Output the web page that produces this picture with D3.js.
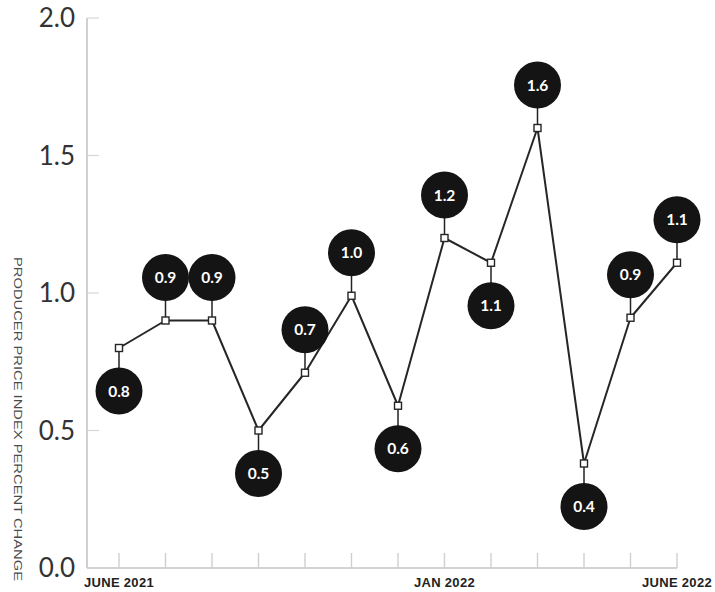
<!DOCTYPE html>
<html>
<head>
<meta charset="utf-8">
<script src="https://cdn.jsdelivr.net/npm/d3@7"></script>
<style>
  html, body { margin: 0; padding: 0; background: #fff; }
  svg { display: block; }
</style>
</head>
<body>
<svg id="chart" width="715" height="592"></svg>
<script>
// Monthly producer price index change, June 2021 to June 2022
const months = ["2021-06","2021-07","2021-08","2021-09","2021-10","2021-11","2021-12",
                "2022-01","2022-02","2022-03","2022-04","2022-05","2022-06"];
const ppiChange = [0.8, 0.9, 0.9, 0.5, 0.71, 0.99, 0.59, 1.2, 1.11, 1.6, 0.38, 0.91, 1.11];
// Which side of the point each value bubble sits on
const bubbleSide = ["below","above","above","below","above","above","below",
                    "above","below","above","below","above","above"];
const yTicks = [0, 0.5, 1, 1.5, 2];
const xLabels = { "2021-06": "JUNE 2021", "2022-01": "JAN 2022", "2022-06": "JUNE 2022" };
const yTitle = "PRODUCER PRICE INDEX PERCENT CHANGE";

const svg = d3.select("#chart");
const margin = { left: 87, right: 38, top: 18, bottom: 24 };
const W = 715, H = 592;

const x = d3.scalePoint().domain(months).range([119, 677]);
const y = d3.scaleLinear().domain([0, 2]).range([H - margin.bottom, margin.top]);
const fmt = d3.format(".1f");

const data = months.map((m, i) => ({ m, v: ppiChange[i], side: bubbleSide[i] }));

// Axes
const axisColor = "#c4c4c4";
svg.append("line")
  .attr("x1", margin.left).attr("x2", margin.left)
  .attr("y1", y(2)).attr("y2", y(0))
  .attr("stroke", axisColor).attr("stroke-width", 1.6);
svg.append("line")
  .attr("x1", margin.left).attr("x2", x.range()[1])
  .attr("y1", y(0)).attr("y2", y(0))
  .attr("stroke", axisColor).attr("stroke-width", 1.6);

// Y ticks and labels
const yt = svg.append("g");
yt.selectAll("line").data(yTicks.filter(d => d > 0)).join("line")
  .attr("x1", margin.left).attr("x2", margin.left + 12)
  .attr("y1", d => y(d)).attr("y2", d => y(d))
  .attr("stroke", "#d8d8d8").attr("stroke-width", 1.2);
yt.selectAll("text").data(yTicks).join("text")
  .attr("x", 75).attr("y", d => y(d))
  .attr("dy", "0.36em")
  .attr("text-anchor", "end")
  .attr("font-family", "Lato, 'Noto Sans', sans-serif")
  .attr("font-size", 26)
  .attr("fill", "#333")
  .text(d => fmt(d));

// X ticks
svg.append("g").selectAll("line").data(months).join("line")
  .attr("x1", d => x(d)).attr("x2", d => x(d))
  .attr("y1", y(0) - 15).attr("y2", y(0))
  .attr("stroke", "#cfcfcf").attr("stroke-width", 1.4);

svg.append("g").selectAll("text").data(months.filter(m => xLabels[m])).join("text")
  .attr("x", d => x(d)).attr("y", 587)
  .attr("text-anchor", "middle")
  .attr("font-family", "'Liberation Sans', Arial, sans-serif")
  .attr("font-weight", "bold")
  .attr("font-size", 13)
  .attr("letter-spacing", 0.3)
  .attr("fill", "#222")
  .text(d => xLabels[d]);

// Y axis title
svg.append("text")
  .attr("transform", "translate(14,257) rotate(90)")
  .attr("font-family", "'Liberation Sans', Arial, sans-serif")
  .attr("font-size", 11.5)
  .attr("fill", "#4a4a4a")
  .attr("textLength", 324)
  .attr("lengthAdjust", "spacingAndGlyphs")
  .text(yTitle);

// Connectors from points to bubbles
const offset = 43;
const by = d => y(d.v) + (d.side === "above" ? -offset : offset);
svg.append("g").selectAll("line").data(data).join("line")
  .attr("x1", d => x(d.m)).attr("x2", d => x(d.m))
  .attr("y1", d => y(d.v)).attr("y2", d => by(d))
  .attr("stroke", "#222").attr("stroke-width", 1.5);

// Series line
svg.append("path").datum(data)
  .attr("fill", "none")
  .attr("stroke", "#262626")
  .attr("stroke-width", 2)
  .attr("stroke-linejoin", "round")
  .attr("d", d3.line().x(d => x(d.m)).y(d => y(d.v)));

// Square markers
const s = 7;
svg.append("g").selectAll("rect").data(data).join("rect")
  .attr("x", d => x(d.m) - s / 2).attr("y", d => y(d.v) - s / 2)
  .attr("width", s).attr("height", s)
  .attr("fill", "#fff").attr("stroke", "#262626").attr("stroke-width", 1.4);

// Value bubbles
const bubbles = svg.append("g").selectAll("g").data(data).join("g")
  .attr("transform", d => `translate(${x(d.m)},${by(d)})`);
bubbles.append("circle").attr("r", 23.5).attr("fill", "#141414");
bubbles.append("text")
  .attr("text-anchor", "middle").attr("dy", "0.36em")
  .attr("font-family", "Lato, 'Open Sans', sans-serif")
  .attr("font-weight", "bold")
  .attr("font-size", 15.5)
  .attr("fill", "#fff")
  .text(d => fmt(d.v));
</script>
</body>
</html>
